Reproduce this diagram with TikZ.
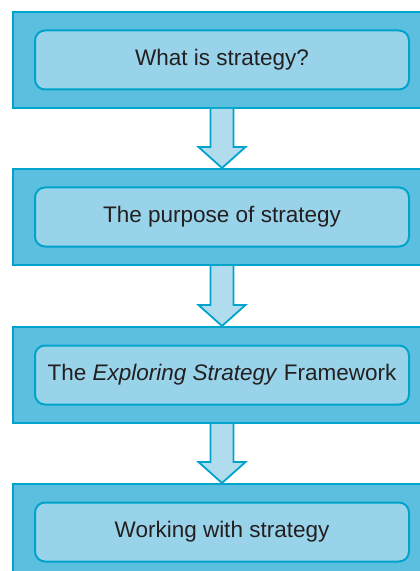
\documentclass[tikz,border=0pt]{standalone}
\usepackage{fontspec}
\setmainfont{Liberation Sans}
\usetikzlibrary{calc}
\definecolor{outerblue}{HTML}{5DBFDF}
\definecolor{edgeblue}{HTML}{00A3CC}
\definecolor{innerblue}{HTML}{99D3E9}
\definecolor{arrowblue}{HTML}{B1DCED}
\definecolor{textgrey}{HTML}{231F20}
\tikzset{
  outerbox/.style={draw=edgeblue, fill=outerblue, line width=1pt, minimum width=209pt, minimum height=48pt, inner sep=0pt},
  innerbox/.style={draw=edgeblue, fill=innerblue, line width=1pt, rounded corners=5pt, minimum width=187pt, minimum height=29.5pt, inner sep=0pt, text=textgrey, font=\fontsize{11.25}{13}\selectfont},
  blockarrow/.style={draw=edgeblue, fill=arrowblue, line width=0.9pt, line join=miter}
}
% block arrow from the bottom of one box to the top of the next
\newcommand{\flowarrow}[2]{%
  \draw[blockarrow] ($(#1.south)+(-5.75pt,0)$) -- ($(#2.north)+(-5.75pt,10.5pt)$)
    -- ($(#2.north)+(-11.75pt,10.5pt)$) -- (#2.north) -- ($(#2.north)+(11.75pt,10.5pt)$)
    -- ($(#2.north)+(5.75pt,10.5pt)$) -- ($(#1.south)+(5.75pt,0)$);}
\begin{document}
\begin{tikzpicture}[x=0.5pt,y=-0.5pt]
        \useasboundingbox (0,0) rectangle (419,571);
        \node[outerbox] (o1) at (222,60) {};
        \node[outerbox] (o2) at (222,217) {};
        \node[outerbox] (o3) at (222,375) {};
        \node[outerbox] (o4) at (222,532) {};
        \node[innerbox] (b1) at (o1.center) {What is strategy?};
        \node[innerbox] (b2) at (o2.center) {The purpose of strategy};
        \node[innerbox] (b3) at (o3.center) {The \textit{Exploring Strategy} Framework};
        \node[innerbox] (b4) at (o4.center) {Working with strategy};
        \flowarrow{o1}{o2}
        \flowarrow{o2}{o3}
        \flowarrow{o3}{o4}
    \end{tikzpicture}
\end{document}
